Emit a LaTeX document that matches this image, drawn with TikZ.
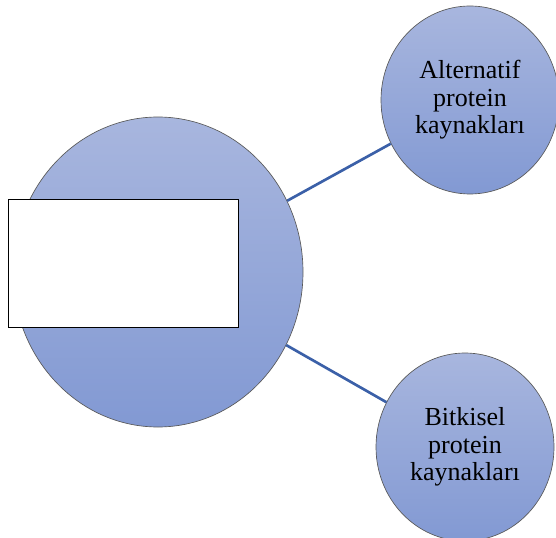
\documentclass[tikz,border=0pt]{standalone}
\usepackage{fontspec}
\setmainfont{Liberation Serif}
\usetikzlibrary{shapes.geometric}

\definecolor{circtop}{RGB}{168,182,222}
\definecolor{circbot}{RGB}{130,153,211}
\definecolor{linkblue}{RGB}{59,96,168}

\begin{document}
\begin{tikzpicture}[
    x=0.75pt, y=-0.75pt,
    bubble/.style={draw=black!65, ellipse, line width=0.5pt, inner sep=0pt, align=center, top color=circtop, bottom color=circbot, font=\fontsize{19.5}{20.6}\selectfont},
    big/.style={bubble, minimum width=217.5pt, minimum height=232.5pt},
    small/.style={bubble, minimum width=133.5pt, minimum height=141pt},
    blank/.style={draw, rectangle, fill=white, line width=0.6pt, minimum width=172.5pt, minimum height=96pt, inner sep=0pt},
    link/.style={draw=linkblue, line width=2pt}
]
\useasboundingbox (0,0) rectangle (556,538);

% Nodes
\node (main) [big] at (158,272) {};
\node (alt) [small] at (470,100) {Alternatif\\protein\\kaynakları};
\node (plant) [small] at (465,447) {Bitkisel\\protein\\kaynakları};
\node (label) [blank] at (123,263) {};

% Links
\draw [link] (main) -- (alt);
\draw [link] (main) -- (plant);

\end{tikzpicture}
\end{document}
